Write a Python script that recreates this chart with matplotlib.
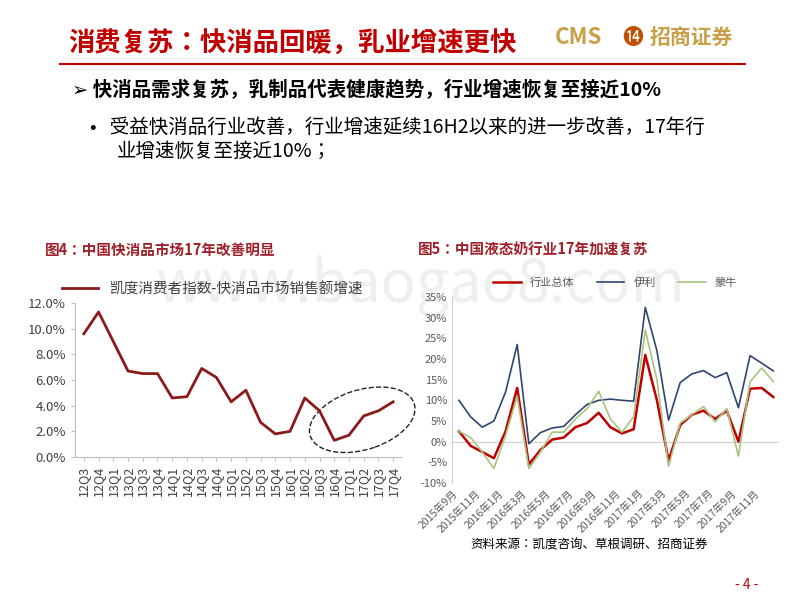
import matplotlib
matplotlib.use("Agg")
import matplotlib.pyplot as plt
from matplotlib.patches import Ellipse
from matplotlib import font_manager

# pick whichever CJK family matplotlib actually registered
names = {f.name for f in font_manager.fontManager.ttflist}
cjk = [n for n in ["Noto Sans CJK SC", "Noto Sans CJK JP", "Noto Sans CJK TC", "Noto Sans CJK KR"] if n in names]
plt.rcParams["font.family"] = cjk[:1] + ["DejaVu Sans"]

# ── data ─────────────────────────────────────────────
quarters = ["12Q3", "12Q4", "13Q1", "13Q2", "13Q3", "13Q4", "14Q1", "14Q2", "14Q3", "14Q4",
            "15Q1", "15Q2", "15Q3", "15Q4", "16Q1", "16Q2", "16Q3", "16Q4", "17Q1", "17Q2",
            "17Q3", "17Q4"]
fmcg_growth = [9.6, 11.3, 9.0, 6.7, 6.5, 6.5, 4.6, 4.7, 6.9, 6.2, 4.3, 5.2, 2.7, 1.8, 2.0,
               4.6, 3.6, 1.3, 1.7, 3.2, 3.6, 4.3]

months = ["2015年9月", "2015年10月", "2015年11月", "2015年12月", "2016年1月", "2016年2月",
          "2016年3月", "2016年4月", "2016年5月", "2016年6月", "2016年7月", "2016年8月",
          "2016年9月", "2016年10月", "2016年11月", "2016年12月", "2017年1月", "2017年2月",
          "2017年3月", "2017年4月", "2017年5月", "2017年6月", "2017年7月", "2017年8月",
          "2017年9月", "2017年10月", "2017年11月", "2017年12月"]
industry = [2.5, -1, -2.5, -4, 2.5, 13, -5.5, -2, 0.5, 1, 3.5, 4.5, 7, 3.5, 2, 3,
            21, 10, -4.5, 4, 6.5, 7.5, 5.5, 7.5, 0, 12.8, 13, 10.8]
yili = [10, 6, 3.5, 5, 12, 23.5, -0.5, 2.2, 3.3, 3.7, 6.5, 9, 10, 10.3, 10, 9.8,
        32.5, 22, 5.2, 14.3, 16.4, 17.2, 15.5, 16.7, 8.2, 20.8, 19, 17.1]
mengniu = [2.5, 1, -2.5, -6.5, 1.5, 11, -6.5, -2.5, 2.3, 2.3, 5.5, 8, 12.2, 5.5, 2.3, 6,
           27, 15, -6, 4.5, 6.5, 8.5, 4.8, 8, -3.5, 14.5, 17.8, 14.5]

W, H = 800, 600
fig = plt.figure(figsize=(8, 6), dpi=100)
fig.patch.set_facecolor("white")


def px(x, y):
    return x / W, 1 - y / H


def axes_px(x0, y0, x1, y1):
    return fig.add_axes([x0 / W, 1 - y1 / H, (x1 - x0) / W, (y1 - y0) / H])


RED = "#C00000"

# watermark (behind the chart axes)
fig.text(*px(420, 286), "www.baogao8.com", fontsize=42, color="#efefef",
         ha="center", va="center", zorder=-1)

# ── header ───────────────────────────────────────────
fig.text(*px(68, 44), "消费复苏：快消品回暖，乳业增速更快", color=RED, fontsize=19,
         fontweight="bold", va="center")
fig.text(*px(555, 38), "CMS", color="#C9A04A", fontsize=16, fontweight="bold", va="center")
fig.text(*px(622, 38), "⓮", color="#C05000", fontsize=15, va="center")
fig.text(*px(650, 38), "招商证券", color="#C9A04A", fontsize=15, fontweight="bold", va="center")
fig.add_artist(plt.Line2D([60 / W, 745 / W], [1 - 64 / H] * 2, color=RED, lw=1.5))

fig.text(*px(72, 90), "➢ 快消品需求复苏，乳制品代表健康趋势，行业增速恢复至接近10%",
         fontsize=14, fontweight="bold", va="center")
fig.text(*px(90, 127), "•   受益快消品行业改善，行业增速延续16H2以来的进一步改善，17年行",
         fontsize=14, va="center")
fig.text(*px(117, 151), "业增速恢复至接近10%；", fontsize=14, va="center")

fig.text(*px(45, 250), "图4：中国快消品市场17年改善明显", color="#A0202A", fontsize=10.5,
         fontweight="bold", va="center")
fig.text(*px(418, 250), "图5：中国液态奶行业17年加速复苏", color="#A0202A", fontsize=10.5,
         fontweight="bold", va="center")

# ── left chart ───────────────────────────────────────
ax1 = axes_px(75, 303, 402, 457)
ax1.patch.set_alpha(0)
x1 = range(len(quarters))
ax1.plot(x1, fmcg_growth, color="#8B1A1A", lw=2, label="凯度消费者指数-快消品市场销售额增速")
ax1.set_ylim(0, 12)
ax1.set_xlim(-0.6, len(quarters) - 0.4)
ax1.set_yticks(range(0, 13, 2))
ax1.set_yticklabels([f"{v:.1f}%" for v in range(0, 13, 2)], fontsize=9.5, color="#404040")
ax1.set_xticks(list(x1))
ax1.set_xticklabels(quarters, rotation=90, fontsize=9, color="#404040")
for s in ["top", "right"]:
    ax1.spines[s].set_visible(False)
ax1.spines["left"].set_color("#bfbfbf")
ax1.spines["bottom"].set_color("#bfbfbf")
ax1.tick_params(length=3, color="#bfbfbf")
ax1.legend(loc="upper left", bbox_to_anchor=(-0.08, 1.22), frameon=False, fontsize=10.5,
           handlelength=2.5, labelcolor="#404040")
ax1.add_patch(Ellipse((18.9, 2.9), 7.5, 4.6, angle=22, fill=False, ls="--", lw=1,
                      color="#222", clip_on=False))

# ── right chart ──────────────────────────────────────
ax2 = axes_px(452, 297, 778, 483)
ax2.patch.set_alpha(0)
x2 = range(len(months))
ax2.plot(x2, industry, color="#C00000", lw=1.8, label="行业总体")
ax2.plot(x2, yili, color="#2E4670", lw=1.2, label="伊利")
ax2.plot(x2, mengniu, color="#A9C47F", lw=1.2, label="蒙牛")
ax2.axhline(0, color="#d0d0d0", lw=0.8, zorder=0)
ax2.set_ylim(-10, 35)
ax2.set_xlim(-0.6, len(months) - 0.6)
ax2.set_yticks(range(-10, 36, 5))
ax2.set_yticklabels([f"{v}%" for v in range(-10, 36, 5)], fontsize=8, color="#595959")
ax2.set_xticks(list(x2)[::2])
ax2.set_xticklabels(months[::2], rotation=45, ha="right", fontsize=7.5, color="#595959")
for s in ["top", "right", "bottom"]:
    ax2.spines[s].set_visible(False)
ax2.spines["left"].set_color("#d0d0d0")
ax2.tick_params(length=0)
ax2.legend(loc="upper center", bbox_to_anchor=(0.5, 1.16), ncol=3, frameon=False,
           fontsize=8, handlelength=2.5, labelcolor="#595959")

fig.text(*px(470, 545), "资料来源：凯度咨询、草根调研、招商证券", fontsize=9, va="center")
fig.text(*px(735, 585), "- 4 -", fontsize=10, color=RED, va="center")

fig.savefig("out.png", dpi=100)
